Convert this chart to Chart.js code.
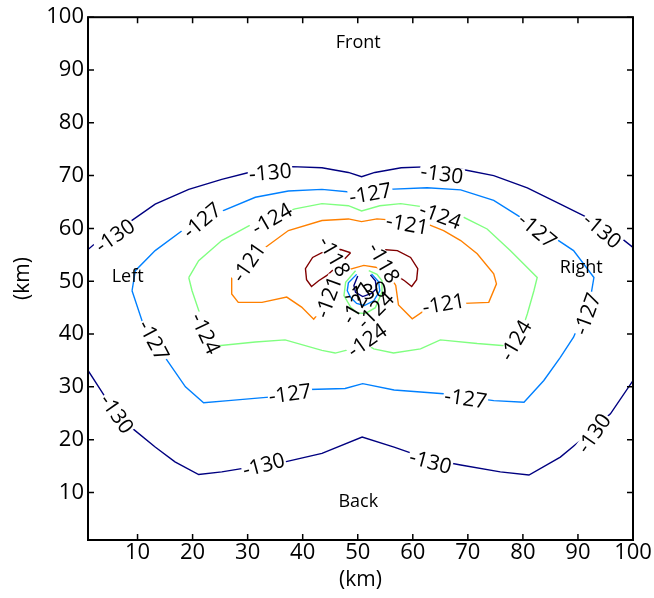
<!DOCTYPE html>
<html>
<head>
<meta charset="utf-8">
<script src="https://cdn.jsdelivr.net/npm/chart.js@4/dist/chart.umd.min.js"></script>
<style>
  html, body { margin: 0; padding: 0; background: #fff; }
  canvas { display: block; }
</style>
</head>
<body>
<canvas id="c" width="654" height="598"></canvas>
<script>
// ---- tick labels ----
const xTicks = [10, 20, 30, 40, 50, 60, 70, 80, 90, 100];
const yTicks = [10, 20, 30, 40, 50, 60, 70, 80, 90, 100];

// ---- contour levels ----
const levels = [-130, -127, -124, -121, -118];

// ---- contour lines, [x km, y km] ----
const c130Top = [[1,56.0],[3,57.8],[8.4,61.1],[13.2,64.6],[19.3,67.4],[25.3,69.3],[30.2,70.6],[34,71.3],[38,71.7],[43.5,71.5],[48.3,70.6],[50.7,69.8],[53.1,70.6],[57.9,71.5],[63.4,71.7],[69.3,71.1],[74.7,70.0],[80.8,67.7],[86.8,64.6],[91.1,62.4],[97.7,58.3],[100,56.4]];
const c130Bottom = [[1,33.1],[4.1,28.1],[8.4,22.7],[13.2,18.6],[16.8,15.8],[21.1,13.4],[25.3,13.9],[30,14.7],[36.8,15.8],[43.5,17.4],[50.8,20.5],[56.6,18.6],[62.6,16.4],[68.7,15.2],[75.9,13.9],[81.1,13.3],[86.8,16.7],[90.5,19.9],[95.9,24.9],[100,31.2]];
const c130Center = [[50.0,51.0],[49.3,49.2],[49.6,47.9],[50.9,47.1],[52.5,47.7],[53.4,48.6],[53.2,50.1],[52.3,51.2]];
const c127Loop = [[9.0,48.2],[9.6,52.0],[13.2,55.8],[19.3,60.5],[24.7,63.0],[31.4,65.9],[37.4,67.1],[43.5,67.4],[49.5,66.8],[50.7,66.2],[52,66.8],[55.4,67.4],[62.6,67.7],[68.7,67.3],[74.7,65.3],[79.6,62.1],[85.6,58.3],[89.2,55.8],[92.9,50.7],[92.3,47.0],[89.2,39.4],[86.8,35.6],[83.8,31.2],[80.2,27.1],[74.7,27.4],[65.6,28.7],[56.6,29.4],[50.9,30.6],[47.7,29.7],[41.1,29.5],[34.4,28.1],[26.5,27.4],[22.0,27.0],[18.7,30.0],[15.0,35.6],[11.4,40.7],[9.0,48.2]];
const c127Center = [[49.8,51.3],[48.3,49.7],[48.1,48.2],[48.7,46.9],[49.8,45.8],[51.2,45.4],[52.9,46.3],[54.0,48.2],[53.8,49.9],[52.5,51.4]];
const c124Loop = [[19.3,50.7],[21.1,53.9],[25.3,57.7],[30.2,60.5],[34.1,62.2],[38.6,63.7],[43.5,64.7],[48.3,64.3],[50.7,63.3],[54.0,64.3],[57.8,64.7],[63.2,63.9],[68.7,62.4],[73.5,59.9],[77.7,55.8],[82.6,50.7],[82.0,48.2],[80.8,43.8],[80.2,41.9],[76.7,37.8],[71.7,38.2],[65.0,38.9],[61.4,37.2],[56.5,36.4],[52.9,37.2],[50.7,38.6],[48.9,37.2],[45.9,36.4],[43.5,36.9],[36.8,38.9],[31.4,38.5],[24.7,37.8],[21.1,44.5],[19.9,48.2],[19.3,50.7]];
const c124Center = [[49.6,52.0],[47.8,49.8],[47.5,47.3],[48.7,45.1],[49.9,44.0],[51.4,43.9],[53.2,45.0],[54.4,47.9],[54.4,50.1],[53.5,51.3],[52.0,52.0]];
const c121Loop = [[43.8,45.1],[42.0,42.8],[39.8,45.1],[37.1,47.0],[32.6,46.0],[28.3,46.0],[27.1,47.6],[27.1,50.7],[29.6,53.9],[33.2,56.4],[37.4,59.6],[43.5,61.5],[48.3,61.8],[50.7,61.3],[53.5,61.8],[62.0,61.1],[65.6,59.6],[68.7,57.7],[71.7,55.2],[74.7,51.4],[75.2,49.5],[73.8,46.0],[69.3,45.8],[62.6,44.8],[59.9,42.9],[57.4,45.5],[56.9,49.2],[55.6,51.4],[53.5,52.6],[51.1,53.0],[48.7,52.3],[46.9,51.1],[46.0,49.2],[45.2,47.0],[43.8,45.1]];
const c118Left = [[48.7,55.4],[46.9,56.0],[44.2,55.8],[41.8,54.5],[40.5,52.4],[40.7,50.3],[41.6,49.0],[42.9,50.1],[44.4,51.1],[45.8,52.4],[47.3,53.9],[48.7,55.4]];
const c118Right = [[52.7,55.4],[54.5,56.0],[57.2,55.8],[59.6,54.5],[60.9,52.4],[60.7,50.3],[59.8,49.0],[58.5,50.1],[57.0,51.1],[55.6,52.4],[54.1,53.9],[52.7,55.4]];

// ---- contour labels (line broken under them): [level, x km, y km, angle deg] ----
const contourLabels = [
  [-130, 5.9, 58.6, -35], [-130, 34.1, 70.6, -5], [-130, 65.3, 70.3, 8], [-130, 94.4, 59.6, 40],
  [-130, 6.2, 24.9, 55], [-130, 32.9, 15.2, -15], [-130, 63.2, 15.8, 15], [-130, 92.9, 21.2, -55],
  [-127, 21.7, 61.5, -40], [-127, 52.3, 66.6, -10], [-127, 82.6, 59.6, 40], [-127, 91.7, 43.8, -70],
  [-127, 69.6, 27.8, 8], [-127, 37.7, 28.7, -8], [-127, 12.9, 38.8, 62],
  [-124, 34.4, 61.8, -30], [-124, 65.0, 62.4, 20], [-124, 78.7, 38.8, -60], [-124, 22.3, 40.1, 65],
  [-124, 51.7, 38.8, -35],
  [-121, 30.2, 53.6, -55], [-121, 59.0, 60.8, 10], [-121, 65.6, 45.7, -10], [-121, 44.7, 47.0, -70],
  [-118, 45.7, 54.7, 60], [-118, 54.7, 53.5, 60]
];
// ---- labels in the crowded centre (drawn over the lines) ----
const centerLabels = [
  [-124, 53.2, 44.5, -45], [-127, 49.9, 45.8, -60], [-130, 51.4, 47.9, -10]
];

// ---- text notes: [text, x km, y km] ----
const notes = [["Front", 50.1, 95.1], ["Back", 50.1, 8.2], ["Left", 8.2, 50.9], ["Right", 90.6, 52.6]];

const contours = [
  [-130, c130Top], [-130, c130Bottom], [-127, c127Loop], [-124, c124Loop], [-121, c121Loop],
  [-118, c118Left], [-118, c118Right], [-124, c124Center], [-127, c127Center], [-130, c130Center]
];

const levelColor = { '-130': '#000080', '-127': '#0080ff', '-124': '#80ff80', '-121': '#ff8000', '-118': '#800000' };
const FONT = '"Open Sans", "DejaVu Sans", sans-serif';

const datasets = contours.map(([lev, pts]) => ({
  label: String(lev),
  data: pts.map(p => ({ x: p[0], y: p[1] })),
  showLine: true,
  borderColor: levelColor[String(lev)],
  backgroundColor: levelColor[String(lev)],
  borderWidth: 1.4,
  pointRadius: 0,
  pointHoverRadius: 0,
  tension: 0,
  fill: false
}));

function drawLabel(ctx, x, y, lab, gap) {
  const [lev, lx, ly, ang] = lab;
  const px = x.getPixelForValue(lx), py = y.getPixelForValue(ly);
  const t = String(lev);
  ctx.save();
  ctx.translate(px, py);
  ctx.rotate(ang * Math.PI / 180);
  const w = ctx.measureText(t).width;
  if (gap) {
    ctx.fillStyle = '#fff';
    ctx.fillRect(-w / 2 - 1, -8, w + 2, 16);
  }
  ctx.fillStyle = '#000';
  ctx.fillText(t, 0, 1);
  ctx.restore();
}

const labelPlugin = {
  id: 'clabels',
  afterDatasetsDraw(chart) {
    const { ctx, scales: { x, y } } = chart;
    ctx.save();
    ctx.font = '21px ' + FONT;
    ctx.textAlign = 'center';
    ctx.textBaseline = 'middle';
    contourLabels.forEach(l => drawLabel(ctx, x, y, l, true));
    centerLabels.forEach(l => drawLabel(ctx, x, y, l, false));
    ctx.font = '18px ' + FONT;
    notes.forEach(([t, nx, ny]) => {
      ctx.fillStyle = '#000';
      ctx.fillText(t, x.getPixelForValue(nx), y.getPixelForValue(ny));
    });
    ctx.restore();
  }
};

const framePlugin = {
  id: 'frame',
  afterDraw(chart) {
    const { ctx, chartArea: a, scales: { x, y } } = chart;
    ctx.save();
    ctx.strokeStyle = '#000';
    ctx.lineWidth = 1.5;
    ctx.beginPath();
    xTicks.forEach(v => {
      const p = x.getPixelForValue(v);
      ctx.moveTo(p, a.bottom); ctx.lineTo(p, a.bottom - 6);
      ctx.moveTo(p, a.top); ctx.lineTo(p, a.top + 6);
    });
    yTicks.forEach(v => {
      const p = y.getPixelForValue(v);
      ctx.moveTo(a.left, p); ctx.lineTo(a.left + 6, p);
      ctx.moveTo(a.right, p); ctx.lineTo(a.right - 6, p);
    });
    ctx.stroke();
    ctx.lineWidth = 2;
    ctx.strokeRect(a.left, a.top, a.right - a.left, a.bottom - a.top);
    ctx.restore();
  }
};

const tickFont = { family: FONT, size: 22 };
const titleFont = { family: FONT, size: 21 };

new Chart(document.getElementById('c'), {
  type: 'scatter',
  data: { datasets },
  options: {
    responsive: false,
    animation: false,
    events: [],
    layout: { padding: { top: 16, right: 21, left: 0, bottom: 0 } },
    plugins: { legend: { display: false }, tooltip: { enabled: false } },
    scales: {
      x: {
        type: 'linear', min: 1, max: 100,
        afterBuildTicks: s => { s.ticks = xTicks.map(v => ({ value: v })); },
        afterFit: s => { s.height = 58; },
        grid: { display: false, drawTicks: false },
        border: { display: false },
        ticks: { font: tickFont, color: '#000', padding: 0, maxRotation: 0, autoSkip: false },
        title: { display: true, text: '(km)', font: titleFont, color: '#000', padding: { top: 0, bottom: 5 } }
      },
      y: {
        type: 'linear', min: 1, max: 100,
        afterBuildTicks: s => { s.ticks = yTicks.map(v => ({ value: v })); },
        afterFit: s => { s.width = 88; },
        grid: { display: false, drawTicks: false },
        border: { display: false },
        ticks: { font: tickFont, color: '#000', padding: 4, autoSkip: false },
        title: { display: true, text: '(km)', font: titleFont, color: '#000', padding: { top: 10, bottom: 0 } }
      }
    }
  },
  plugins: [labelPlugin, framePlugin]
});
</script>
</body>
</html>
